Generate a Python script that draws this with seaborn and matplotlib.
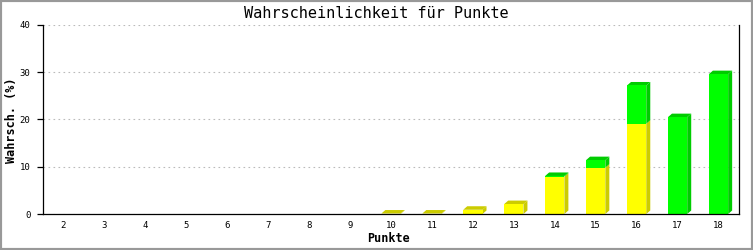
import matplotlib
matplotlib.use("Agg")
import matplotlib.pyplot as plt
import seaborn as sns
import pandas as pd
from matplotlib.patches import Polygon, Rectangle

# ---- data ----
categories = ["2", "3", "4", "5", "6", "7", "8", "9", "10", "11", "12", "13", "14", "15", "16", "17", "18"]
yellow_vals = [0, 0, 0, 0, 0, 0, 0, 0, 0.1, 0.1, 0.9, 2.1, 7.9, 9.8, 19.1, 0, 0]
green_vals = [0, 0, 0, 0, 0, 0, 0, 0, 0, 0, 0, 0, 0.15, 1.6, 8.1, 20.5, 29.6]
y_ticks = [0, 10, 20, 30, 40]

title = "Wahrscheinlichkeit für Punkte"
xlabel = "Punkte"
ylabel = "Wahrsch. (%)"

YEL, YEL_D = "#ffff00", "#cccc00"
GRN, GRN_D = "#00ff00", "#00cc00"

totals = [a + b for a, b in zip(yellow_vals, green_vals)]
df = pd.DataFrame({"cat": categories, "yellow": yellow_vals, "green": green_vals, "total": totals})

sns.set_style("white")
plt.rcParams["font.family"] = ["DejaVu Sans Mono", "DejaVu Sans"]
plt.rcParams["text.color"] = "black"
plt.rcParams["xtick.color"] = "black"
plt.rcParams["ytick.color"] = "black"

W, H = 753, 250
fig = plt.figure(figsize=(W / 100, H / 100), dpi=100)
fig.patch.set_facecolor("white")
ax = fig.add_axes([43 / W, 36 / H, 696 / W, 189 / H])
ax.set_facecolor("white")

sns.barplot(data=df, x="cat", y="total", color=GRN, saturation=1, width=0.47,
            linewidth=0, ax=ax, zorder=3)
sns.barplot(data=df, x="cat", y="yellow", color=YEL, saturation=1, width=0.47,
            linewidth=0, ax=ax, zorder=3.1)
for p in ax.patches:
    p.set_antialiased(False)

ax.set_xlim(-0.5, len(categories) - 0.5)
ax.set_ylim(0, 40)

# 3D depth in data units (about 4px right, 3.5px up)
px_x = (len(categories)) / 696.0
px_y = 40 / 189.0
dx, dy = 4 * px_x, 3.5 * px_y

n = len(categories)
green_patches = list(ax.patches[:n])
for i, p in enumerate(green_patches):
    x0 = p.get_x()
    x1 = x0 + p.get_width()
    yv = yellow_vals[i]
    tot = totals[i]
    if tot <= 0:
        continue
    segs = []
    if yv > 0:
        segs.append((0, yv, YEL_D))
    if green_vals[i] > 0:
        segs.append((yv, tot, GRN_D))
    for (a, b, c) in segs:
        ax.add_patch(Polygon([(x1, a), (x1 + dx, a + dy), (x1 + dx, b + dy), (x1, b)],
                             closed=True, facecolor=c, edgecolor="none", zorder=2.9))
    topc = segs[-1][2]
    ax.add_patch(Polygon([(x0, tot), (x0 + dx, tot + dy), (x1 + dx, tot + dy), (x1, tot)],
                         closed=True, facecolor=topc, edgecolor="none", zorder=2.9))

# grid & spines
ax.set_yticks(y_ticks)
ax.yaxis.grid(True, color="#bbbbbb", linestyle=(0, (1.5, 3)), linewidth=0.8, zorder=0)
ax.xaxis.grid(False)
ax.set_axisbelow(True)
for s in ["left", "right", "bottom"]:
    ax.spines[s].set_visible(True)
    ax.spines[s].set_color("black")
    ax.spines[s].set_linewidth(0.9)
    ax.spines[s].set_zorder(5)
ax.spines["top"].set_visible(False)

ax.tick_params(axis="y", which="both", left=True, length=4, width=0.9, color="black",
               labelcolor="black", direction="out", pad=5, labelsize=6.5)
ax.tick_params(axis="x", which="both", bottom=False, length=0, pad=5, labelsize=6.5,
               labelcolor="black")

ax.set_xlabel("")
ax.set_ylabel("")
fig.text(389 / W, 1 - 239 / H, xlabel, ha="center", va="center", fontsize=8.5,
         fontweight="bold", color="black")
fig.text(12 / W, 1 - 120 / H, ylabel, ha="center", va="center", rotation=90,
         fontsize=8.5, fontweight="bold", color="black")
fig.text(376 / W, 1 - 13 / H, title, ha="center", va="center", fontsize=11, color="black")

fig.patches.append(Rectangle((0, 0), 1, 1, transform=fig.transFigure, fill=False,
                             edgecolor="#999999", linewidth=3))

fig.savefig("out.png", dpi=100, facecolor="white")
